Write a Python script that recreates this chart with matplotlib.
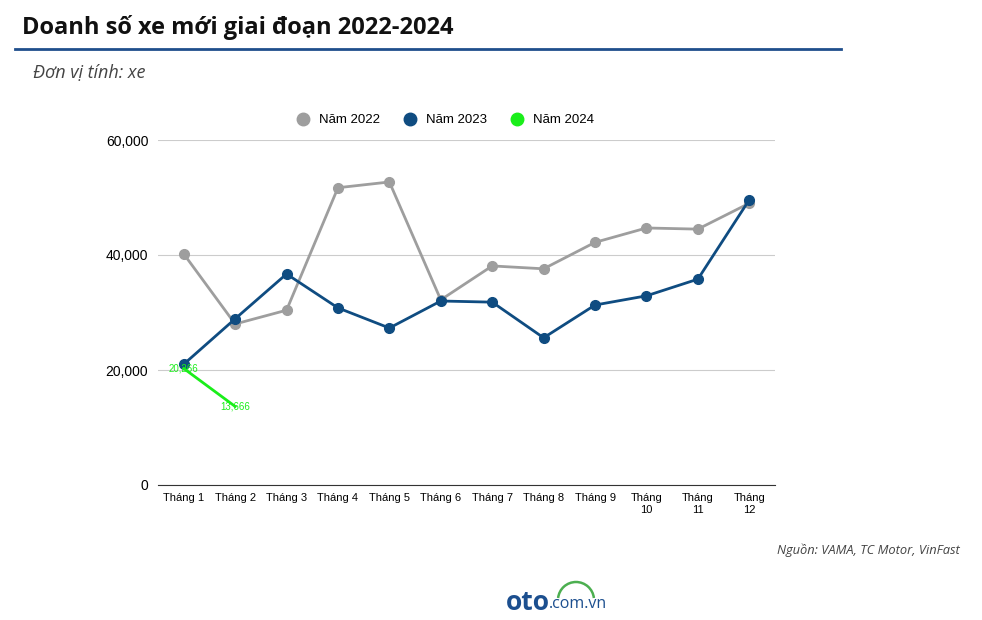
import matplotlib.pyplot as plt
from matplotlib.lines import Line2D
from matplotlib.patches import Arc

# Dữ liệu
thang = ["Tháng 1", "Tháng 2", "Tháng 3", "Tháng 4", "Tháng 5", "Tháng 6",
         "Tháng 7", "Tháng 8", "Tháng 9", "Tháng\n10", "Tháng\n11", "Tháng\n12"]
nam_2022 = [40200, 28000, 30400, 51700, 52700, 32200, 38100, 37600, 42200, 44700, 44500, 49000]
nam_2023 = [21000, 28900, 36700, 30800, 27300, 32000, 31800, 25600, 31300, 32900, 35800, 49600]
nam_2024 = [20266, 13666]

mau_2022 = "#9e9e9e"
mau_2023 = "#0f4c81"
mau_2024 = "#1aee1a"

fig = plt.figure(figsize=(9.82, 6.2), dpi=100)
ax = fig.add_axes([158 / 982, 1 - 485 / 620, (775 - 158) / 982, (485 - 140) / 620])

x = list(range(len(thang)))
ax.plot(x, nam_2022, color=mau_2022, lw=2, marker="o", ms=7, zorder=3)
ax.plot(x, nam_2023, color=mau_2023, lw=2, marker="o", ms=7, zorder=4)
ax.plot(x[:len(nam_2024)], nam_2024, color=mau_2024, lw=2, zorder=5)
for i, v in enumerate(nam_2024):
    ax.text(i, v, f"{v:,}", color=mau_2024, fontsize=7, ha="center", va="center",
            family="Liberation Sans", zorder=6)

ax.set_xlim(-0.5, len(thang) - 0.5)
ax.set_ylim(0, 60000)
ax.set_yticks([0, 20000, 40000, 60000])
ax.set_yticklabels([f"{t:,}" for t in [0, 20000, 40000, 60000]], family="Liberation Sans", fontsize=10)
ax.set_xticks(x)
ax.set_xticklabels(thang, family="Liberation Sans", fontsize=8)
ax.tick_params(length=0, pad=6)
ax.tick_params(axis="y", pad=7)
ax.grid(axis="y", color="#cccccc", lw=0.8)
ax.set_axisbelow(True)
for s in ["top", "right", "left"]:
    ax.spines[s].set_visible(False)
ax.spines["bottom"].set_color("#333333")

# Chú thích
handles = [Line2D([], [], ls="", marker="o", ms=9, color=c) for c in (mau_2022, mau_2023, mau_2024)]
fig.legend(handles, ["Năm 2022", "Năm 2023", "Năm 2024"], loc="center",
           bbox_to_anchor=(442 / 982, 1 - 120 / 620), ncol=3, frameon=False,
           prop={"family": "Liberation Sans", "size": 9.5}, handletextpad=0.2, columnspacing=1.3)

# Tiêu đề và ghi chú
fig.text(22 / 982, 1 - 27 / 620, "Doanh số xe mới giai đoạn 2022-2024", fontsize=17,
         fontweight="bold", family="Open Sans", va="center", color="#111111")
fig.add_artist(Line2D([15 / 982, 841 / 982], [1 - 49 / 620] * 2, color="#1f4e8c", lw=2))
fig.text(33 / 982, 1 - 73 / 620, "Đơn vị tính: xe", fontsize=13, style="italic",
         family="Open Sans", va="center", color="#444444")
fig.text(960 / 982, 1 - 550 / 620, "Nguồn: VAMA, TC Motor, VinFast", fontsize=9.3, style="italic",
         family="Open Sans", va="center", ha="right", color="#444444")

# Logo dạng chữ
fig.text(550 / 982, 1 - 602 / 620, "oto", fontsize=19, fontweight="bold", family="Open Sans",
         color="#1c4f8f", ha="right", va="center")
fig.text(549 / 982, 1 - 604 / 620, ".com.vn", fontsize=11.5, family="Open Sans",
         color="#1c4f8f", ha="left", va="center")
fig.add_artist(Arc((576 / 982, 1 - 600 / 620), 36 / 982, 36 / 620, theta1=10, theta2=170,
                   color="#4caf50", lw=1.8, transform=fig.transFigure))

fig.savefig("out.png", dpi=100)
